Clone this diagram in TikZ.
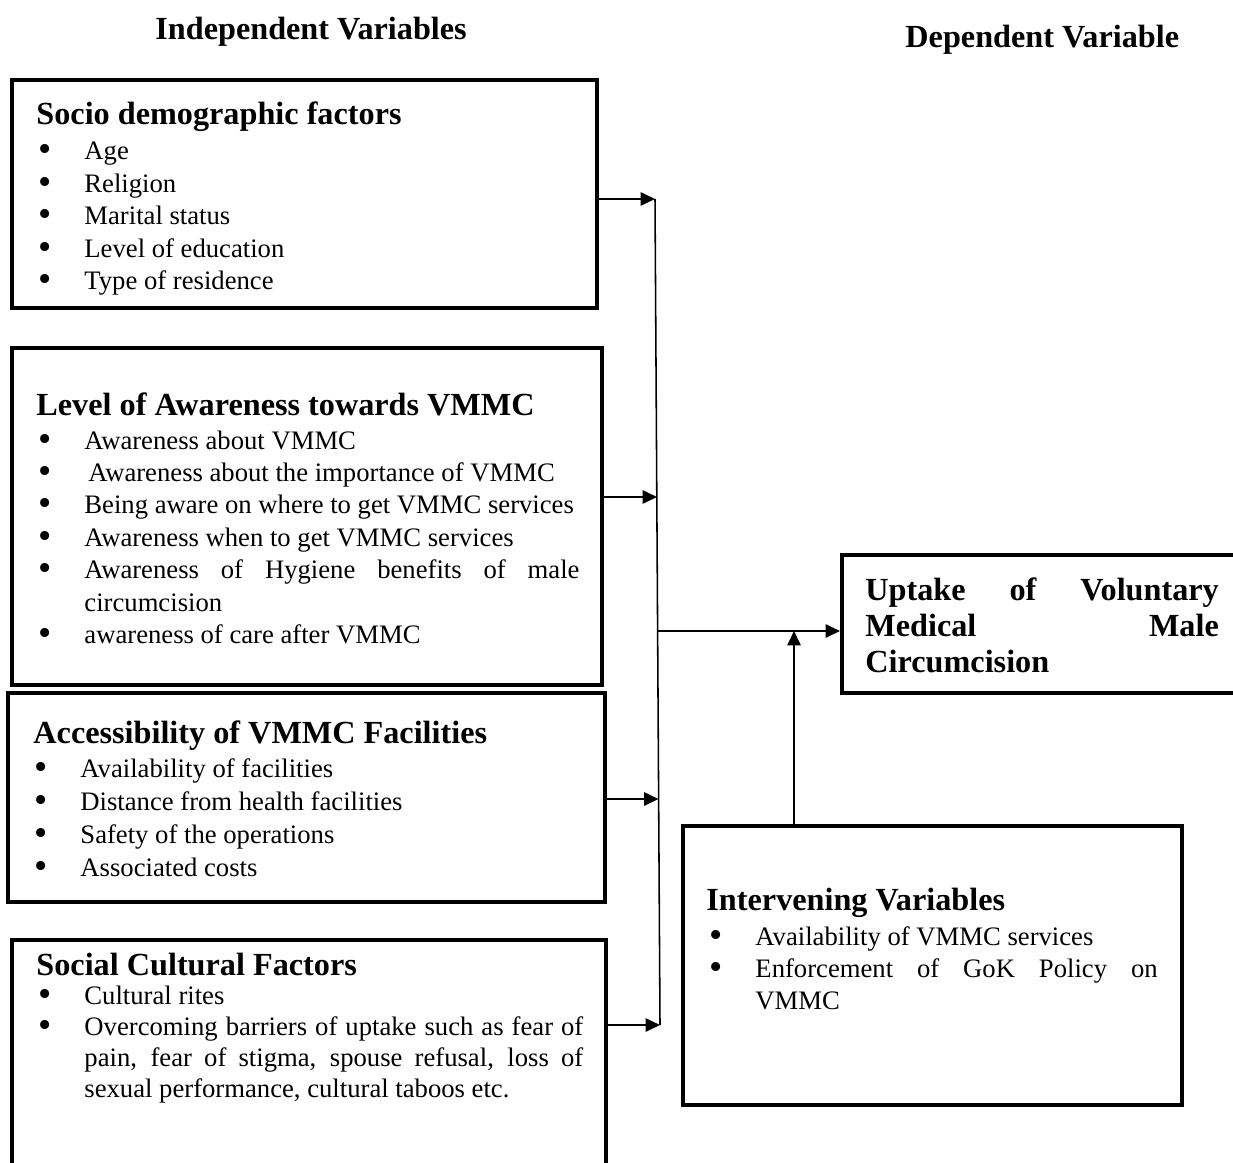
\documentclass[tikz,border=0pt]{standalone}
\usepackage{fontspec}
\setmainfont{Liberation Serif}
\usetikzlibrary{arrows.meta,fit}

% bullet that hangs left of the text
\newcommand{\bmark}{\llap{\raisebox{-0.9pt}{\fontsize{17}{17}\selectfont\textbullet}\hspace{14.6pt}}}
\newcommand{\bitem}{\par\noindent\bmark}

\begin{document}
\begin{tikzpicture}[x=0.45pt,y=-0.45pt,
  framebox/.style={draw,line width=1.8pt,inner sep=0pt},
  heading/.style={anchor=base west,inner sep=0pt,font=\fontsize{14.5}{16}\selectfont\bfseries},
  itemlist/.style 2 args={anchor=base west,inner sep=0pt,text width=#1,align=justify,
    font=\fontsize{12}{#2}\selectfont,execute at begin node={\hyphenpenalty=10000}},
  outcome/.style={anchor=base west,inner sep=0pt,text width=159pt,align=justify,
    font=\fontsize{14.5}{16.2}\selectfont\bfseries,execute at begin node={\hyphenpenalty=10000}},
  arr/.style={line width=0.9pt,-{Triangle[length=6.5pt,width=6pt]}}]

\useasboundingbox (0,0) rectangle (1233,1162);

%
%headings
%
\node[heading] (indep) at (155,40) {Independent Variables};
\node[heading] (dep) at (905,48) {Dependent Variable};

%
%frames
%
\node[framebox,fit={(12,80) (597,308)}] (socio) {};
\node[framebox,fit={(12,348) (602,685)}] (aware) {};
\node[framebox,fit={(8,693) (605,902)}] (access) {};
\node[framebox,fit={(12,940) (606,1185)}] (social) {}; % runs off the page
\node[framebox,fit={(842,555) (1250,693)}] (uptake) {}; % runs off the page
\node[framebox,fit={(683,826) (1182,1105)}] (interv) {};

%socio demographic factors
\node[heading] (socio-t) at (36,125) {Socio demographic factors};
\node[itemlist={240pt}{14.6pt}] (socio-l) at (84,160) {\bmark Age \bitem Religion
  \bitem Marital status \bitem Level of education \bitem Type of residence};

%awareness
\node[heading] (aware-t) at (36,415) {Level of Awareness towards VMMC};
\node[itemlist={222.8pt}{14.6pt}] (aware-l) at (84,449) {\bmark Awareness about VMMC
  \bitem\hspace{1.8pt}Awareness about the importance of VMMC
  \bitem Being aware on where to get VMMC services
  \bitem Awareness when to get VMMC services
  \bitem Awareness of Hygiene benefits of male\linebreak circumcision
  \bitem awareness of care after VMMC};

%accessibility
\node[heading] (access-t) at (33,743) {Accessibility of VMMC Facilities};
\node[itemlist={240pt}{14.85pt}] (access-l) at (80,777) {\bmark Availability of facilities
  \bitem Distance from health facilities \bitem Safety of the operations
  \bitem Associated costs};

%social cultural
\node[heading] (social-t) at (36,975) {Social Cultural Factors};
\node[itemlist={224.5pt}{13.95pt}] (social-l) at (84,1004) {\bmark Cultural rites
  \bitem Overcoming barriers of uptake such as fear of\linebreak pain, fear of stigma,
  spouse refusal, loss of\linebreak sexual performance, cultural taboos etc.};

%dependent variable
\node[outcome] (uptake-t) at (865,600) {Uptake of Voluntary\linebreak Medical
  Male\linebreak Circumcision};

%intervening
\node[heading] (interv-t) at (706,910) {Intervening Variables};
\node[itemlist={181pt}{14.4pt}] (interv-l) at (755,945) {\bmark Availability of VMMC services
  \bitem Enforcement of GoK Policy on\linebreak VMMC};

%
%connectors
%
\coordinate (top) at (655,199);
\coordinate (bot) at (660,1025);
\coordinate (j2) at (657,497);
\coordinate (j3) at (658.5,799);
\coordinate (out) at (658,631);
\coordinate (up) at (794,631);

\draw[line width=0.7pt] (top) -- (bot); %collecting line
\draw[arr] (socio.east |- top) -- (top);
\draw[arr] (aware.east |- j2) -- (j2);
\draw[arr] (access.east |- j3) -- (j3);
\draw[arr] (social.east |- bot) -- (bot);
\draw[arr] (out) -- (uptake.west |- out);
\draw[arr] (interv.north -| up) -- (up);

\end{tikzpicture}
\end{document}
